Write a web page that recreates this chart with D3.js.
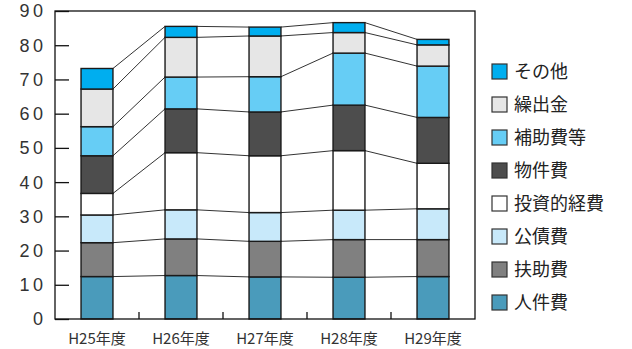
<!DOCTYPE html>
<html>
<head>
<meta charset="utf-8">
<script src="https://cdn.jsdelivr.net/npm/d3@7"></script>
<style>
  html, body { margin: 0; padding: 0; background: #fff; }
  svg { display: block; }
</style>
</head>
<body>
<svg id="chart" width="632" height="349"></svg>
<script>
// Fiscal years on the x axis
const years = ["H25年度", "H26年度", "H27年度", "H28年度", "H29年度"];

// Expenditure categories, bottom of the stack first
const categories = ["人件費", "扶助費", "公債費", "投資的経費", "物件費", "補助費等", "繰出金", "その他"];

// Series values (one entry per year)
const jinkenhi   = [12.4, 12.7, 12.3, 12.2, 12.4];
const fujohi     = [9.9, 10.7, 10.4, 11.0, 10.8];
const kosaihi    = [8.1, 8.5, 8.4, 8.6, 9.0];
const toshiteki  = [6.3, 16.7, 16.6, 17.4, 13.3];
const bukkenhi   = [11.0, 12.8, 12.8, 13.3, 13.4];
const hojohi     = [8.5, 9.3, 10.3, 15.2, 15.0];
const kuridashi  = [11.0, 11.6, 11.9, 6.0, 6.2];
const sonota     = [6.0, 3.2, 2.6, 2.9, 1.6];

const yTicks = [0, 10, 20, 30, 40, 50, 60, 70, 80, 90];

const seriesValues = [jinkenhi, fujohi, kosaihi, toshiteki, bukkenhi, hojohi, kuridashi, sonota];
const colors = ["#4a9bbb", "#808080", "#c8e9fa", "#ffffff", "#4d4d4d", "#66cdf5", "#e6e6e6", "#00aeef"];

const rows = years.map((yr, i) => {
  const r = { year: yr };
  categories.forEach((c, k) => { r[c] = seriesValues[k][i]; });
  return r;
});
const stacked = d3.stack().keys(categories)(rows);

const svg = d3.select("#chart");
const plotL = 55, plotR = 475, plotT = 11, plotB = 319;

const x = d3.scaleBand().domain(years).range([plotL, plotR]).padding(0);
const y = d3.scaleLinear().domain([0, 90]).range([plotB, plotT]);
const barW = x.bandwidth() * 0.38;
const bx = yr => x(yr) + (x.bandwidth() - barW) / 2;

// Connector lines between adjacent bars at each stack boundary
const g = svg.append("g");
const boundaries = [];
stacked.forEach(s => {
  for (let i = 0; i < years.length - 1; i++) {
    boundaries.push({ x1: bx(years[i]) + barW, y1: y(s[i][1]), x2: bx(years[i + 1]), y2: y(s[i + 1][1]) });
  }
});
g.selectAll("line.conn").data(boundaries).join("line")
  .attr("class", "conn")
  .attr("x1", d => d.x1).attr("y1", d => d.y1)
  .attr("x2", d => d.x2).attr("y2", d => d.y2)
  .attr("stroke", "#333").attr("stroke-width", 1);

// Stacked bars
stacked.forEach((s, k) => {
  g.selectAll("rect.s" + k).data(s).join("rect")
    .attr("class", "s" + k)
    .attr("x", d => bx(d.data.year))
    .attr("y", d => y(d[1]))
    .attr("width", barW)
    .attr("height", d => y(d[0]) - y(d[1]))
    .attr("fill", colors[k])
    .attr("stroke", "#1a1a1a")
    .attr("stroke-width", 1.4);
});

// Plot frame
svg.append("rect")
  .attr("x", plotL).attr("y", plotT)
  .attr("width", plotR - plotL).attr("height", plotB - plotT)
  .attr("fill", "none").attr("stroke", "#111").attr("stroke-width", 1.3);

// Y axis: inward ticks, spaced digits
const yAxis = d3.axisRight(y).tickValues(yTicks).tickSize(14).tickFormat("");
const ya = svg.append("g").attr("transform", `translate(${plotL},0)`).call(yAxis);
ya.select(".domain").remove();
ya.selectAll("line").attr("stroke", "#111").attr("stroke-width", 1.3);
svg.append("g").selectAll("text").data(yTicks).join("text")
  .attr("x", 43)
  .attr("y", d => y(d))
  .attr("dy", "0.36em")
  .attr("text-anchor", "end")
  .attr("font-family", "Liberation Sans, Arial, sans-serif")
  .attr("font-size", 18)
  .attr("fill", "#333")
  .text(d => String(d).split("").join("\u2009"));

// X axis: inward ticks at band boundaries
const inner = years.slice(1).map(yr => x(yr));
svg.append("g").selectAll("line").data(inner).join("line")
  .attr("x1", d => d).attr("x2", d => d)
  .attr("y1", plotB).attr("y2", plotB - 7)
  .attr("stroke", "#111").attr("stroke-width", 1.3);
svg.append("g").selectAll("text").data(years).join("text")
  .attr("x", d => x(d) + x.bandwidth() / 2)
  .attr("y", 344)
  .attr("text-anchor", "middle")
  .attr("font-family", "Noto Sans CJK JP, sans-serif")
  .attr("font-size", 15)
  .attr("fill", "#333")
  .text(d => d);

// Legend, top-of-stack first
const legendOrder = categories.map((c, k) => ({ c, color: colors[k] })).reverse();
const lg = svg.append("g");
const item = lg.selectAll("g").data(legendOrder).join("g")
  .attr("transform", (d, i) => `translate(492, ${71.5 + i * 33})`);
item.append("rect")
  .attr("x", 0).attr("y", -7.5).attr("width", 15).attr("height", 15)
  .attr("fill", d => d.color).attr("stroke", "#333").attr("stroke-width", 1.2);
item.append("text")
  .attr("x", 22).attr("y", 0).attr("dy", "0.36em")
  .attr("font-family", "Noto Sans CJK JP, sans-serif")
  .attr("font-size", 18)
  .attr("fill", "#222")
  .text(d => d.c);
</script>
</body>
</html>
